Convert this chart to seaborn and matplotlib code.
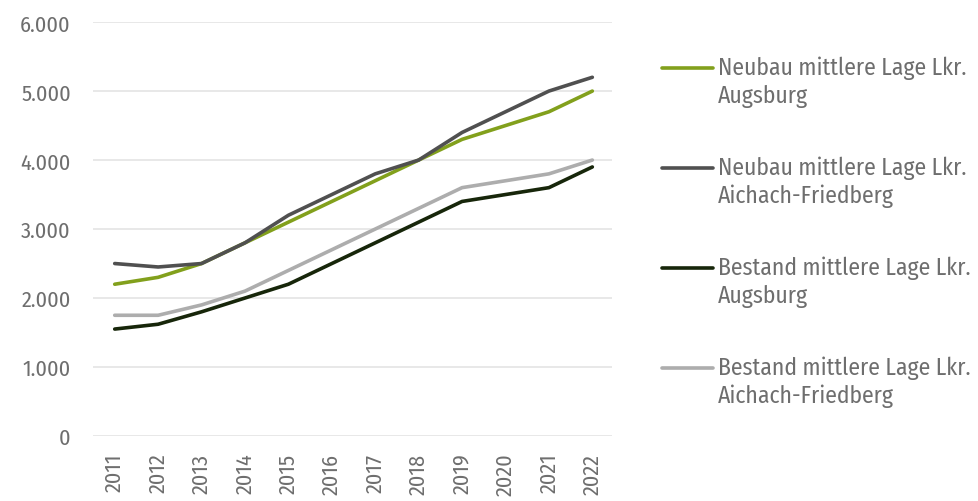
import numpy as np
import pandas as pd
import matplotlib.pyplot as plt
import seaborn as sns
from matplotlib.ticker import FuncFormatter
from matplotlib.legend_handler import HandlerLine2D


years = list(range(2011, 2023))
neubau_augsburg = [2200, 2300, 2500, 2800, 3100, 3400, 3700, 4000, 4300, 4500, 4700, 5000]
neubau_aichach = [2500, 2450, 2500, 2800, 3200, 3500, 3800, 4000, 4400, 4700, 5000, 5200]
bestand_augsburg = [1550, 1620, 1800, 2000, 2200, 2500, 2800, 3100, 3400, 3500, 3600, 3900]
bestand_aichach = [1750, 1750, 1900, 2100, 2400, 2700, 3000, 3300, 3600, 3700, 3800, 4000]

series_names = ["Neubau mittlere Lage Lkr.\nAugsburg",
                "Neubau mittlere Lage Lkr.\nAichach-Friedberg",
                "Bestand mittlere Lage Lkr.\nAugsburg",
                "Bestand mittlere Lage Lkr.\nAichach-Friedberg"]
colors = ["#82a01c", "#505050", "#17260a", "#adadad"]

df = pd.DataFrame({"Jahr": years * 4,
                   "Wert": neubau_augsburg + neubau_aichach + bestand_augsburg + bestand_aichach,
                   "Reihe": [n for n in series_names for _ in years]})


class FirstLineHandler(HandlerLine2D):
    # legend line sits next to the first text line, not centred on both
    def create_artists(self, legend, orig_handle, xdescent, ydescent,
                       width, height, fontsize, trans):
        artists = super().create_artists(legend, orig_handle, xdescent, ydescent,
                                         width, height, fontsize, trans)
        for a in artists:
            a.set_ydata(np.asarray(a.get_ydata()) + 0.62 * fontsize)
        return artists


sns.set_style("white")
plt.rcParams['font.family'] = ['Fira Sans Condensed', 'DejaVu Sans']

fig = plt.figure(figsize=(9.79, 5.02), dpi=100)
ax = fig.add_axes([0.095, 0.1295, 0.53, 0.8245])

sns.lineplot(data=df, x="Jahr", y="Wert", hue="Reihe", palette=colors,
             linewidth=2.6, ax=ax)

ax.set_ylim(0, 6000)
ax.set_xlim(2010.5, 2022.45)
ax.set_yticks(range(0, 6001, 1000))
ax.yaxis.set_major_formatter(FuncFormatter(lambda v, p: f"{int(v):,}".replace(",", ".")))
ax.set_xticks(years)
ax.set_xticklabels([str(y) for y in years], rotation=90)
ax.tick_params(axis='both', length=0, labelsize=16, colors="#6e6e6e")
ax.tick_params(axis='y', pad=16)
ax.tick_params(axis='x', pad=12)
ax.grid(axis='y', color="#e4e4e4", linewidth=1.2)
ax.set_axisbelow(True)
for s in ax.spines.values():
    s.set_visible(False)
ax.set_xlabel("")
ax.set_ylabel("")

handles, labels = ax.get_legend_handles_labels()
leg = ax.legend(handles, labels, loc="upper left", bbox_to_anchor=(0.654, 0.929),
                bbox_transform=fig.transFigure, frameon=False, fontsize=17,
                handlelength=2.2, handletextpad=0.2, labelspacing=2.05,
                labelcolor="#6e6e6e",
                handler_map={h: FirstLineHandler() for h in handles})
for t in leg.get_texts():
    t.set_linespacing(1.25)

fig.savefig("out.png", dpi=100)
